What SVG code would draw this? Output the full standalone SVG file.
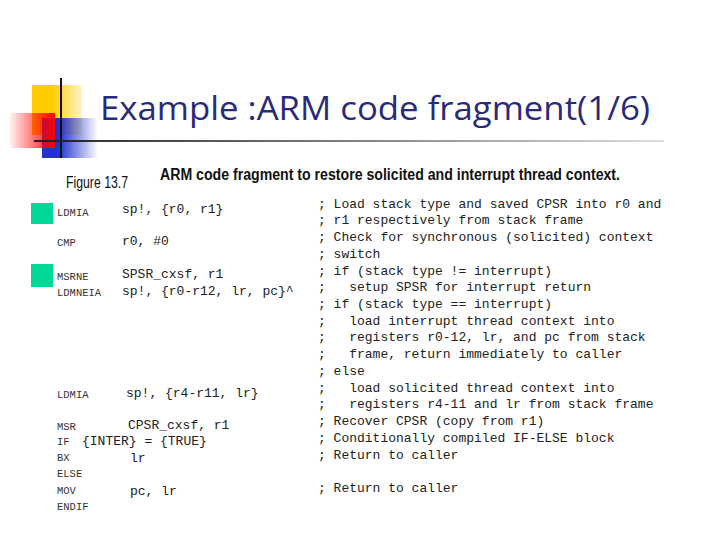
<svg xmlns="http://www.w3.org/2000/svg" width="720" height="540" viewBox="0 0 720 540">
<defs>
<linearGradient id="hl" x1="0" x2="1"><stop offset="0" stop-color="#222"/><stop offset="1" stop-color="#222" stop-opacity="0.15"/></linearGradient>
<linearGradient id="red" x1="1" x2="0"><stop offset="0" stop-color="#f00"/><stop offset="1" stop-color="#f00" stop-opacity="0.05"/></linearGradient>
<linearGradient id="blue" x1="0" x2="1"><stop offset="0.3" stop-color="#2233cc"/><stop offset="1" stop-color="#2233cc" stop-opacity="0"/></linearGradient>
<linearGradient id="yel" x1="0" x2="1"><stop offset="0.4" stop-color="#ffcc00"/><stop offset="1" stop-color="#ffcc00" stop-opacity="0.2"/></linearGradient>
<style>
.m{font-family:"Liberation Mono",monospace;font-size:10.5px;fill:#333}
.a{font-family:"Liberation Mono",monospace;font-size:13px;fill:#222}
.c{font-family:"Liberation Mono",monospace;font-size:13px;fill:#222}
.h{font-family:"Liberation Sans Narrow","Liberation Sans",sans-serif;fill:#111}
</style>
</defs>
<rect width="720" height="540" fill="#fff"/>
<g id="decor">
<rect x="32" y="85" width="50" height="50" fill="url(#yel)"/>
<rect x="42" y="118" width="56" height="40" fill="url(#blue)"/>
<rect x="10" y="113" width="45" height="35" fill="url(#red)"/>
<line x1="61" y1="78" x2="61" y2="158" stroke="#111" stroke-width="2"/>
<rect x="34" y="140" width="630" height="2" fill="url(#hl)"/>
</g>
<text x="100" y="120" font-family="Open Sans,Liberation Sans,sans-serif" font-size="33" fill="#2a2a78" textLength="550" lengthAdjust="spacingAndGlyphs">Example :ARM code fragment(1/6)</text>
<text x="66" y="188" class="h" font-size="17" textLength="62" lengthAdjust="spacingAndGlyphs">Figure 13.7</text>
<text x="160" y="180" class="h" font-weight="bold" font-size="16" textLength="460" lengthAdjust="spacingAndGlyphs">ARM code fragment to restore solicited and interrupt thread context.</text>
<rect x="31" y="203" width="22" height="21" fill="#00d89a"/>
<rect x="31" y="264" width="22" height="23" fill="#00d89a"/>
<g class="m">
<text x="57" y="216">LDMIA</text>
<text x="57" y="246">CMP</text>
<text x="57" y="280">MSRNE</text>
<text x="57" y="296">LDMNEIA</text>
<text x="57" y="398">LDMIA</text>
<text x="57" y="430">MSR</text>
<text x="57" y="445">IF</text>
<text x="57" y="461">BX</text>
<text x="57" y="477">ELSE</text>
<text x="57" y="494">MOV</text>
<text x="57" y="510">ENDIF</text>
</g>
<g class="a">
<text x="122" y="213">sp!, {r0, r1}</text>
<text x="122" y="245">r0, #0</text>
<text x="122" y="278">SPSR_cxsf, r1</text>
<text x="122" y="295">sp!, {r0-r12, lr, pc}^</text>
<text x="126" y="397">sp!, {r4-r11, lr}</text>
<text x="128" y="429">CPSR_cxsf, r1</text>
<text x="82" y="445">{INTER} = {TRUE}</text>
<text x="130" y="462">lr</text>
<text x="130" y="495">pc, lr</text>
</g>
<g class="c">
<text x="318" y="208">; Load stack type and saved CPSR into r0 and</text>
<text x="318" y="224">; r1 respectively from stack frame</text>
<text x="318" y="241">; Check for synchronous (solicited) context</text>
<text x="318" y="258">; switch</text>
<text x="318" y="275">; if (stack type != interrupt)</text>
<text x="318" y="291">;&#160;&#160; setup SPSR for interrupt return</text>
<text x="318" y="308">; if (stack type == interrupt)</text>
<text x="318" y="325">;&#160;&#160; load interrupt thread context into</text>
<text x="318" y="341">;&#160;&#160; registers r0-12, lr, and pc from stack</text>
<text x="318" y="358">;&#160;&#160; frame, return immediately to caller</text>
<text x="318" y="375">; else</text>
<text x="318" y="392">;&#160;&#160; load solicited thread context into</text>
<text x="318" y="408">;&#160;&#160; registers r4-11 and lr from stack frame</text>
<text x="318" y="425">; Recover CPSR (copy from r1)</text>
<text x="318" y="442">; Conditionally compiled IF-ELSE block</text>
<text x="318" y="459">; Return to caller</text>
<text x="318" y="492">; Return to caller</text>
</g>
</svg>
